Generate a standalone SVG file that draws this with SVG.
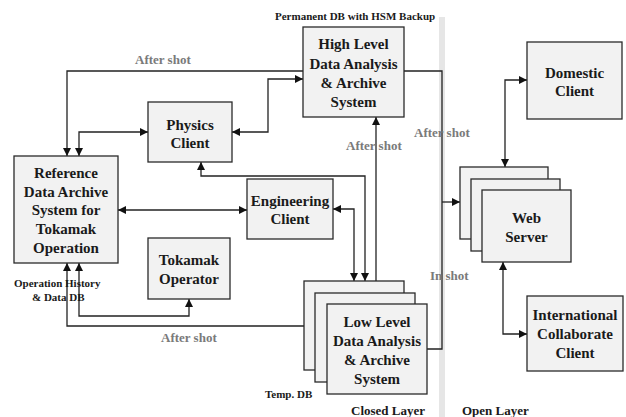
<svg xmlns="http://www.w3.org/2000/svg" width="626" height="417" viewBox="0 0 626 417">
<style>
.box{fill:#f2f2f2;stroke:#2a2a2a;stroke-width:1.3}
.t{font-family:"Liberation Serif",serif;font-weight:bold;font-size:15px;fill:#1a1a1a;text-anchor:middle}
.s{font-family:"Liberation Serif",serif;font-weight:bold;font-size:11px;fill:#1a1a1a}
.g{font-family:"Liberation Serif",serif;font-weight:bold;font-size:13px;fill:#7a7a7a}
.l{font-family:"Liberation Serif",serif;font-weight:bold;font-size:13px;fill:#1a1a1a}
.c{fill:none;stroke:#222;stroke-width:1.3}
</style>
<defs>
<marker id="a" viewBox="0 0 10 10" refX="10" refY="5" markerWidth="8" markerHeight="8" markerUnits="userSpaceOnUse" orient="auto-start-reverse">
<path d="M0,0 L10,5 L0,10 z" fill="#111"/>
</marker>
</defs>
<rect x="439" y="17" width="6" height="400" fill="#e6e6e6"/>
<g id="connectors">
<path class="c" d="M303,71 H67 V156" marker-end="url(#a)"/>
<path class="c" d="M148,132 H79 V156" marker-start="url(#a)" marker-end="url(#a)"/>
<path class="c" d="M232,132 H268 V79 H303" marker-start="url(#a)" marker-end="url(#a)"/>
<path class="c" d="M201,162 V176 H365 V281" marker-start="url(#a)" marker-end="url(#a)"/>
<path class="c" d="M333,209 H354 V281" marker-start="url(#a)" marker-end="url(#a)"/>
<path class="c" d="M376,281 V117" marker-end="url(#a)"/>
<path class="c" d="M118,210 H247" marker-start="url(#a)" marker-end="url(#a)"/>
<path class="c" d="M304,326 H67 V263" marker-end="url(#a)"/>
<path class="c" d="M79,263 V316 H189 V299" marker-start="url(#a)" marker-end="url(#a)"/>
<path class="c" d="M404,71 H442 V349 H427"/>
<path class="c" d="M442,202 H460" marker-end="url(#a)"/>
<path class="c" d="M527,80 H505 V167" marker-start="url(#a)" marker-end="url(#a)"/>
<path class="c" d="M503,262 V334 H527" marker-start="url(#a)" marker-end="url(#a)"/>
</g>
<g id="high-level">
<rect class="box" x="303" y="27" width="101" height="90"/>
<text class="t" x="353.5" y="49">High Level</text>
<text class="t" x="353.5" y="69">Data Analysis</text>
<text class="t" x="353.5" y="88">&amp; Archive</text>
<text class="t" x="353.5" y="107">System</text>
</g>
<g id="physics-client">
<rect class="box" x="148" y="102" width="84" height="60"/>
<text class="t" x="190" y="130">Physics</text>
<text class="t" x="190" y="148">Client</text>
</g>
<g id="reference">
<rect class="box" x="14" y="156" width="104" height="107"/>
<text class="t" x="66" y="178">Reference</text>
<text class="t" x="66" y="197">Data Archive</text>
<text class="t" x="66" y="215">System for</text>
<text class="t" x="66" y="234">Tokamak</text>
<text class="t" x="66" y="253">Operation</text>
</g>
<g id="engineering-client">
<rect class="box" x="247" y="179" width="86" height="60"/>
<text class="t" x="290" y="206">Engineering</text>
<text class="t" x="290" y="224">Client</text>
</g>
<g id="tokamak-operator">
<rect class="box" x="148" y="238" width="82" height="61"/>
<text class="t" x="189" y="265">Tokamak</text>
<text class="t" x="189" y="284">Operator</text>
</g>
<g id="low-level">
<rect class="box" x="304" y="281" width="100" height="89"/>
<rect class="box" x="315" y="293" width="100" height="89"/>
<rect class="box" x="327" y="304" width="100" height="90"/>
<text class="t" x="377" y="327">Low Level</text>
<text class="t" x="377" y="346">Data Analysis</text>
<text class="t" x="377" y="365">&amp; Archive</text>
<text class="t" x="377" y="384">System</text>
</g>
<g id="domestic-client">
<rect class="box" x="527" y="42" width="95" height="77"/>
<text class="t" x="574.5" y="78">Domestic</text>
<text class="t" x="574.5" y="96">Client</text>
</g>
<g id="web-server">
<rect class="box" x="460" y="167" width="88" height="72"/>
<rect class="box" x="471" y="179" width="89" height="72"/>
<rect class="box" x="482" y="190" width="89" height="72"/>
<text class="t" x="526.5" y="223">Web</text>
<text class="t" x="526.5" y="242">Server</text>
</g>
<g id="international-client">
<rect class="box" x="527" y="296" width="96" height="75"/>
<text class="t" x="575" y="320">International</text>
<text class="t" x="575" y="339">Collaborate</text>
<text class="t" x="575" y="358">Client</text>
</g>
<g id="labels">
<text class="s" x="275" y="20">Permanent DB with HSM Backup</text>
<text class="g" x="135" y="64">After shot</text>
<text class="g" x="346" y="150">After shot</text>
<text class="g" x="414" y="137">After shot</text>
<text class="g" x="161" y="342">After shot</text>
<text class="g" x="430" y="280">In shot</text>
<text class="s" x="14" y="287">Operation History</text>
<text class="s" x="32" y="301">&amp; Data DB</text>
<text class="s" x="265" y="398">Temp. DB</text>
<text class="l" x="351" y="415">Closed Layer</text>
<text class="l" x="462" y="415">Open Layer</text>
</g>
</svg>
